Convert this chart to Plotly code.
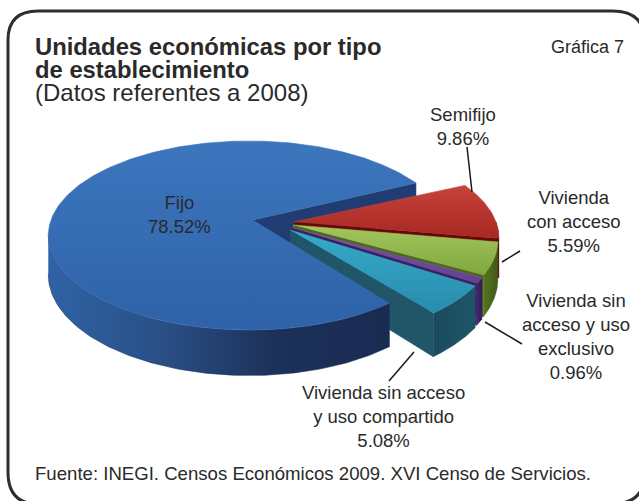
import numpy as np
import plotly.graph_objects as go

categories = ["Fijo", "Semifijo", "Vivienda con acceso", "Vivienda sin acceso y uso exclusivo",
              "Vivienda sin acceso y uso compartido"]
shares = [78.52, 9.86, 5.59, 0.96, 5.08]
label_texts = ["Fijo<br>78.52%", "Semifijo<br>9.86%", "Vivienda<br>con acceso<br>5.59%",
               "Vivienda sin<br>acceso y uso<br>exclusivo<br>0.96%",
               "Vivienda sin acceso<br>y uso compartido<br>5.08%"]
top_colors = [["#3c76bd", "#2f62a8"], ["#c8423a", "#a52822"], ["#a3c65c", "#7fa83f"],
              ["#7a55a8", "#644090"], ["#35aacb", "#2a8cac"]]
rim_colors = [["#2f63a5", "#2a4f86", "#1c3058", "#1a2b52"], ["#6e0c0c", "#5a0808"], ["#567523", "#3f5a18"],
              ["#46256f", "#351a58"], ["#1b4a5d", "#1f5568"]]
wall_colors = ["#203c72", "#6a0707", "#4a6a1e", "#3a1f60", "#215669"]

# pie geometry (pixels of the page)
RX, RY, K, DEPTH = 202, 92, 0.164, 38
RX_FIJO = 198
START = 25.5
APEX = [(253, 220), (294, 222), (293, 225), (291.5, 227.5), (290, 230)]
FIJO_CENTER = (249, 220)


def project(theta, apex, rx=RX):
    t = np.radians(theta)
    u, v = np.cos(t), -np.sin(t)
    p = 1 / (1 - K * v)
    return apex[0] + rx * u * p, apex[1] + RY * v * p, DEPTH * p


def arc(a, b, apex, n=120, rx=RX):
    return project(np.linspace(a, b, n), apex, rx)


def poly(xs, ys, colors, kind):
    # the y axis runs downward, so a vertical gradient is given bottom colour first
    seq = colors[::-1] if kind == "vertical" else colors
    stops = np.linspace(0, 1, len(seq))
    return go.Scatter(x=list(xs), y=list(ys), mode="lines", fill="toself", hoverinfo="skip",
                      line=dict(width=0.6, color=seq[len(seq) // 2]),
                      fillgradient=dict(type=kind, colorscale=[[float(s), c] for s, c in zip(stops, seq)]),
                      showlegend=False)


sweep = 360 * np.array(shares) / sum(shares)
ends = [(START, START + sweep[0])]
cur = START
for s in sweep[1:]:
    ends.append((cur, cur - s))
    cur -= s

fig = go.Figure()

# Fijo cut wall at the back (behind the other slices)
fa = APEX[0]
x1, y1, d1 = project(START, FIJO_CENTER, RX_FIJO)
fig.add_trace(poly([fa[0], x1, x1, fa[0]], [fa[1], y1, y1 + d1, fa[1] + DEPTH], [wall_colors[0]] * 2, "vertical"))


def rim(a, b, apex, colors):
    lo, hi = min(a, b), max(a, b)
    xs, ys, ds = arc(lo, hi, apex)
    mask = np.sin(np.radians(np.linspace(lo, hi, len(xs)))) <= 0.0
    xs, ys, ds = xs[mask], ys[mask], ds[mask]
    return poly(np.r_[xs, xs[::-1]], np.r_[ys, (ys + ds)[::-1]], colors, "horizontal")


for i in range(1, 5):
    a, b = ends[i]
    apex = APEX[i]
    x2, y2, d2 = project(b, apex)
    fig.add_trace(poly([apex[0], x2, x2, apex[0]], [apex[1], y2, y2 + d2, apex[1] + DEPTH],
                       [wall_colors[i]] * 2, "vertical"))
    fig.add_trace(rim(a, b, apex, rim_colors[i]))
    xs, ys, _ = arc(a, b, apex)
    fig.add_trace(poly(np.r_[apex[0], xs], np.r_[apex[1], ys], top_colors[i], "vertical"))

# Fijo rim and top
a, b = ends[0]
xs, ys, ds = arc(189, b, FIJO_CENTER, rx=RX_FIJO)
fig.add_trace(poly(np.r_[xs, xs[::-1]], np.r_[ys, (ys + ds)[::-1]], rim_colors[0], "horizontal"))
xs, ys, _ = arc(a, b, FIJO_CENTER, 300, RX_FIJO)
fig.add_trace(poly(np.r_[fa[0], xs], np.r_[fa[1], ys], top_colors[0], "vertical"))

TXT = "#2a2a2a"
FONT = "Liberation Sans"


def note(x, y, text, size=18.5, anchor="center"):
    fig.add_annotation(x=x, y=y, xref="x", yref="y", text=text, showarrow=False,
                       xanchor=anchor, yanchor="middle", align=anchor if anchor != "center" else "center",
                       font=dict(family=FONT, size=size, color=TXT))


# one block, so the three tight lines share a single line height of 23 px
note(33, 69,
     '<span style="font-size:23.8px"><b>Unidades económicas por tipo</b></span><br>'
     '<span style="font-size:23.8px"><b>de establecimiento</b></span><br>'
     '<span style="font-size:24px">(Datos referentes a 2008)</span>', 17.7, "left")
note(587, 47, "Gráfica 7", 18)
note(179, 214, label_texts[0])
note(463, 126, label_texts[1])
note(574, 221, label_texts[2])
note(576, 336, label_texts[3])
note(383, 416, label_texts[4])
note(33, 473, "Fuente: INEGI. Censos Económicos 2009. XVI Censo de Servicios.", 18.6, "left")

leaders = [(467, 147, 472, 192), (502, 262, 520, 251), (485, 322, 522, 344), (414, 352, 389, 381)]
shapes = [dict(type="line", xref="x", yref="y", x0=p[0], y0=p[1], x1=p[2], y1=p[3],
               line=dict(color="#1a1a1a", width=1.5)) for p in leaders]
shapes.append(dict(type="path", xref="x", yref="y", layer="above",
                   path="M 8 40 Q 8 11 38 11 L 612 11 Q 645 11 645 42 L 645 472 Q 645 504 612 504 "
                        "L 38 504 Q 8 504 8 472 Z",
                   line=dict(color="#2e2e2e", width=3)))

fig.update_layout(width=639, height=501, margin=dict(l=0, r=0, t=0, b=0), paper_bgcolor="white",
                  plot_bgcolor="white", showlegend=False, shapes=shapes,
                  xaxis=dict(range=[0, 639], visible=False, fixedrange=True),
                  yaxis=dict(range=[501, 0], visible=False, fixedrange=True))
fig.write_html("out.html", config=dict(displayModeBar=False),
               post_script="document.body.style.margin='0';document.body.style.overflow='hidden';")
